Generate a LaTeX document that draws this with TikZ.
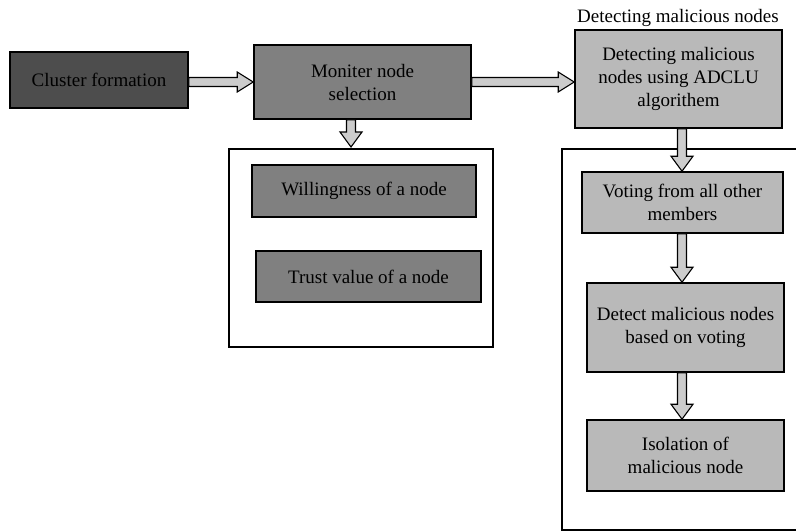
\documentclass[tikz,border=0pt]{standalone}
\usepackage{fontspec}
\setmainfont{Liberation Serif}
\usetikzlibrary{calc}
\definecolor{darkfill}{HTML}{4D4D4D}
\definecolor{midfill}{HTML}{808080}
\definecolor{lightfill}{HTML}{B9B9B9}
\definecolor{arrowfill}{HTML}{CCCCCC}
\tikzset{
  box/.style={draw=black, line width=1.6pt, align=center, inner sep=0pt},
  frame/.style={draw=black, line width=1.6pt},
  blk/.style={draw=black, line width=1.1pt, fill=arrowfill, line join=miter},
}
% right-pointing block arrow: from #1 to #2, vertical position of #3
\newcommand{\blockR}[3]{%
  \draw[blk] let \p1=(#1), \p2=(#2), \p3=(#3) in
    (\x1,{\y3+4.5pt}) -- ({\x2-16pt},{\y3+4.5pt}) -- ({\x2-16pt},{\y3+10pt})
    -- (\x2,\y3) -- ({\x2-16pt},{\y3-10pt}) -- ({\x2-16pt},{\y3-4.5pt})
    -- (\x1,{\y3-4.5pt}) -- cycle;}
% down-pointing block arrow: from #1 to #2, horizontal position of #3
\newcommand{\blockD}[3]{%
  \draw[blk] let \p1=(#1), \p2=(#2), \p3=(#3) in
    ({\x3-4.5pt},\y1) -- ({\x3-4.5pt},{\y2+15pt}) -- ({\x3-11pt},{\y2+15pt})
    -- (\x3,\y2) -- ({\x3+11pt},{\y2+15pt}) -- ({\x3+4.5pt},{\y2+15pt})
    -- ({\x3+4.5pt},\y1) -- cycle;}
\begin{document}
\begin{tikzpicture}[x=1pt,y=-1pt,font=\fontsize{19}{23}\selectfont]
\useasboundingbox (0,0) rectangle (796,531);
% top row
\node[box, fill=darkfill, minimum width=178pt, minimum height=56pt] (cf) at (99,80) {Cluster formation};
\node[box, fill=midfill, minimum width=217pt, minimum height=74pt] (mon) at (362.5,82) {Moniter node\\selection};
\node[box, fill=lightfill, minimum width=207pt, minimum height=98pt] (det) at (678.5,79) {Detecting malicious\\nodes using ADCLU\\algorithem};
\node[anchor=base, inner sep=0pt] (dettitle) at (678,22) {Detecting malicious nodes};
% left container
\node[frame, minimum width=264pt, minimum height=198pt, inner sep=0pt] (c1) at (361,248) {};
\node[box, fill=midfill, minimum width=224pt, minimum height=52pt] (will) at (364,191) {Willingness of a node};
\node[box, fill=midfill, minimum width=225pt, minimum height=51pt] (trust) at (368.5,276.5) {Trust value of a node};
% right container (runs off the right edge)
\coordinate (c2tr) at (800,149);
\coordinate (c2tl) at (562,149);
\coordinate (c2bl) at (562,530);
\coordinate (c2br) at (800,530);
\draw[frame] (c2tr) -- (c2tl) -- (c2bl) -- (c2br);
\node[box, fill=lightfill, minimum width=201pt, minimum height=61pt] (vote) at (682.5,202.5) {Voting from all other\\members};
\node[box, fill=lightfill, minimum width=197pt, minimum height=89pt] (detect) at (685.5,327.5) {Detect malicious nodes\\based on voting};
\node[box, fill=lightfill, minimum width=197pt, minimum height=71pt] (iso) at (685.5,455.5) {Isolation of\\malicious node};
% arrows
\coordinate (ax1) at (351,0);
\coordinate (ax2) at (682,0);
\coordinate (c1top) at (351,147);
\blockR{cf.east}{mon.west}{mon.center}
\blockR{mon.east}{det.west}{mon.center}
\blockD{mon.south -| ax1}{c1top}{ax1}
\blockD{det.south -| ax2}{vote.north -| ax2}{ax2}
\blockD{vote.south -| ax2}{detect.north -| ax2}{ax2}
\blockD{detect.south -| ax2}{iso.north -| ax2}{ax2}
\end{tikzpicture}
\end{document}
